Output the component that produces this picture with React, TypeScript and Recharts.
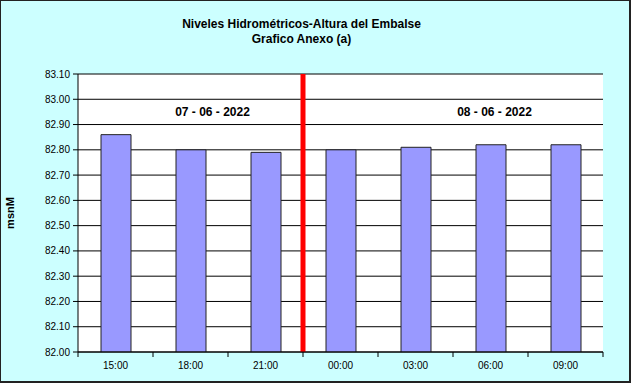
import { ComposedChart, Bar, XAxis, YAxis, CartesianGrid, ReferenceLine, ReferenceDot } from 'recharts'

const horas = ['15:00', '18:00', '21:00', '00:00', '03:00', '06:00', '09:00']
const niveles = [82.86, 82.8, 82.79, 82.8, 82.81, 82.82, 82.82]
const yTicks = [82.0, 82.1, 82.2, 82.3, 82.4, 82.5, 82.6, 82.7, 82.8, 82.9, 83.0, 83.1]
const fechas = ['07 - 06 - 2022', '08 - 06 - 2022']
const fechaHora = ['18:00', '06:00']
const fechaDx = [22, 4]
const fechaY = 82.95
const ultimaHoraDia = '21:00'

const data = horas.map((h, i) => ({ hora: h, nivel: niveles[i] }))

const font = 'Arial, "Liberation Sans", sans-serif'
const tickStyle = { fontFamily: font, fontSize: 10, fill: '#000' }
const TICK = 5
const MARGIN = 5

function HoraTick(props: any) {
  const { x, y, payload, index, visibleTicksCount } = props
  const off = payload?.offset ?? 37.5
  const ay = y - TICK - MARGIN
  return (
    <g>
      <line x1={x - off} x2={x - off} y1={ay} y2={ay + TICK} stroke="#000" />
      {index === visibleTicksCount - 1 && <line x1={x + off} x2={x + off} y1={ay} y2={ay + TICK} stroke="#000" />}
      <text x={x} y={y} dy="0.71em" textAnchor="middle" {...tickStyle}>{payload.value}</text>
    </g>
  )
}

export default function App() {
  return (
    <div style={{ position: 'absolute', left: 0, top: 0, width: 633, height: 385, background: '#fff', fontFamily: font }}>
      <div style={{ position: 'absolute', left: 0, top: 0, width: 631, height: 383, boxSizing: 'border-box', background: '#CCFFFF', border: '1px solid #222', borderRightWidth: 2, borderBottomWidth: 2 }} />
      <div style={{ position: 'absolute', left: 0, width: 633, top: 17, fontSize: 12, fontWeight: 'bold', lineHeight: '15px', color: '#000' }}>
        <div style={{ width: 633, textAlign: 'center', marginLeft: -15 }}>Niveles Hidrométricos-Altura del Embalse</div>
        <div style={{ width: 633, textAlign: 'center', marginLeft: -15 }}>Grafico Anexo (a)</div>
      </div>
      <div style={{ position: 'absolute', left: 10, top: 213, transform: 'translate(-50%, -50%) rotate(-90deg)', fontSize: 11, fontWeight: 'bold', whiteSpace: 'nowrap', color: '#000' }}>msnM</div>
      <div style={{ position: 'absolute', left: 0, top: 0 }}>
        <ComposedChart width={633} height={385} data={data} margin={{ top: 74, right: 30, bottom: 32, left: 0 }}>
          <CartesianGrid horizontal vertical={false} stroke="#000" fill="#fff" fillOpacity={1} />
          <XAxis dataKey="hora" height={1} tickLine={false} tickSize={TICK} tickMargin={MARGIN} axisLine={{ stroke: '#000' }} tick={<HoraTick />} interval={0} />
          <YAxis domain={[82, 83.1]} ticks={yTicks} width={78} tick={tickStyle} tickSize={5} tickMargin={3} tickLine={{ stroke: '#000' }} axisLine={{ stroke: '#000' }} tickFormatter={(v: number) => v.toFixed(2)} interval={0} allowDataOverflow />
          <YAxis yAxisId="r" orientation="right" width={0} tick={false} tickLine={false} axisLine={{ stroke: '#000' }} domain={[82, 83.1]} />
          <Bar dataKey="nivel" fill="#9999FF" stroke="#222" strokeWidth={1} barSize={30} isAnimationActive={false} />
          <ReferenceLine x={ultimaHoraDia} position="end" stroke="#FF0000" strokeWidth={5} />
          {fechas.map((f, i) => (
            <ReferenceDot key={f} x={fechaHora[i]} y={fechaY} r={0} stroke="none" fill="none"
              label={{ value: f, position: 'center', dx: fechaDx[i], fontSize: 12, fontWeight: 'bold', fill: '#000', fontFamily: font }} />
          ))}
        </ComposedChart>
      </div>
    </div>
  )
}
